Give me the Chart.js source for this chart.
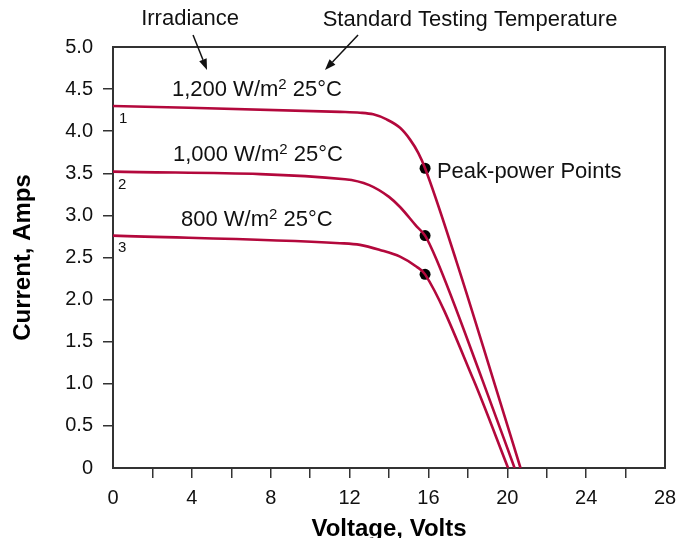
<!DOCTYPE html>
<html>
<head>
<meta charset="utf-8">
<script src="https://cdn.jsdelivr.net/npm/chart.js@4.4.1/dist/chart.umd.min.js"></script>
<style>
  body { margin: 0; background: #fff; }
</style>
</head>
<body>
<canvas id="ivChart" width="677" height="538"></canvas>
<script>
// I-V curves: volts (x) and amps (y)
const volts1200 = [0, 11.51, 12.53, 13.2, 13.88, 14.56, 15.07, 15.49, 15.83, 17.4, 19.29, 20.67];
const amps1200 = [4.3, 4.23, 4.22, 4.2, 4.14, 4.04, 3.9, 3.74, 3.56, 2.47, 1.05, 0];
const volts1000 = [0, 11.77, 13.0, 14.0, 14.56, 15.4, 15.83, 16.42, 18.73, 20.37];
const amps1000 = [3.52, 3.43, 3.36, 3.22, 3.1, 2.87, 2.76, 2.47, 1.05, 0];
const volts800 = [0, 11.51, 12.53, 13.54, 14.56, 15.4, 15.83, 18.28, 20.04];
const amps800 = [2.76, 2.67, 2.65, 2.59, 2.51, 2.39, 2.3, 1.05, 0];
const peakVolts = [15.83, 15.83, 15.83];
const peakAmps = [3.56, 2.76, 2.3];

const curveColor = "#b3083c";
const font = "'Liberation Sans', Arial, sans-serif";

// text and arrows, placed in data units; "^" marks a raised small part
const notes = [
  { text: ["Irradiance"], x: 3.91, y: 5.356, align: "center", size: 22 },
  { text: ["Standard Testing Temperature"], x: 18.11, y: 5.344, align: "center", size: 22 },
  { text: ["1,200 W/m", "^2", " 25\u00b0C"], x: 2.99, y: 4.513, align: "left", size: 22 },
  { text: ["1,000 W/m", "^2", " 25\u00b0C"], x: 3.04, y: 3.741, align: "left", size: 22 },
  { text: ["800 W/m", "^2", " 25\u00b0C"], x: 3.45, y: 2.969, align: "left", size: 22 },
  { text: ["Peak-power Points"], x: 16.43, y: 3.539, align: "left", size: 22 },
  { text: ["1"], x: 0.51, y: 4.157, align: "center", size: 15 },
  { text: ["2"], x: 0.46, y: 3.373, align: "center", size: 15 },
  { text: ["3"], x: 0.46, y: 2.625, align: "center", size: 15 },
];
const arrows = [
  { x1: 4.06, y1: 5.142, x2: 4.77, y2: 4.727 },
  { x1: 12.43, y1: 5.142, x2: 10.75, y2: 4.727 },
];

function points(xs, ys) {
  return xs.map((v, i) => ({ x: v, y: ys[i] }));
}

function curve(xs, ys) {
  return {
    data: points(xs, ys),
    borderColor: curveColor,
    borderWidth: 2.6,
    pointRadius: 0,
    fill: false,
    cubicInterpolationMode: "monotone",
  };
}

const boxPlugin = {
  id: "box",
  beforeDatasetsDraw(chart) {
    const a = chart.chartArea;
    const ctx = chart.ctx;
    ctx.save();
    ctx.strokeStyle = "#333";
    ctx.lineWidth = 2;
    ctx.strokeRect(a.left, a.top, a.right - a.left, a.bottom - a.top);
    ctx.restore();
  },
};

function partFont(p, size) {
  return (p[0] === "^" ? Math.round(size * 0.68) : size) + "px " + font;
}

const notesPlugin = {
  id: "notes",
  afterDatasetsDraw(chart) {
    const ctx = chart.ctx;
    const xs = chart.scales.x;
    const ys = chart.scales.y;
    ctx.save();
    ctx.fillStyle = "#111";
    ctx.textBaseline = "alphabetic";
    ctx.textAlign = "left";
    notes.forEach((n) => {
      let total = 0;
      n.text.forEach((p) => {
        ctx.font = partFont(p, n.size);
        total += ctx.measureText(p.replace("^", "")).width;
      });
      let x = xs.getPixelForValue(n.x);
      if (n.align === "center") x -= total / 2;
      const base = ys.getPixelForValue(n.y) + n.size * 0.36;
      n.text.forEach((p) => {
        ctx.font = partFont(p, n.size);
        const t = p.replace("^", "");
        const y = p[0] === "^" ? base - n.size * 0.3 : base;
        ctx.fillText(t, x, y);
        x += ctx.measureText(t).width;
      });
    });
    ctx.strokeStyle = "#111";
    ctx.lineWidth = 1.5;
    arrows.forEach((ar) => {
      const x1 = xs.getPixelForValue(ar.x1), y1 = ys.getPixelForValue(ar.y1);
      const x2 = xs.getPixelForValue(ar.x2), y2 = ys.getPixelForValue(ar.y2);
      const ang = Math.atan2(y2 - y1, x2 - x1);
      const len = 11, half = 4;
      const bx = x2 - len * Math.cos(ang), by = y2 - len * Math.sin(ang);
      ctx.beginPath();
      ctx.moveTo(x1, y1);
      ctx.lineTo(bx, by);
      ctx.stroke();
      ctx.beginPath();
      ctx.moveTo(x2, y2);
      ctx.lineTo(bx + half * Math.sin(ang), by - half * Math.cos(ang));
      ctx.lineTo(bx - half * Math.sin(ang), by + half * Math.cos(ang));
      ctx.closePath();
      ctx.fill();
    });
    ctx.restore();
  },
};

new Chart("ivChart", {
  type: "line",
  data: {
    datasets: [
      curve(volts1200, amps1200),
      curve(volts1000, amps1000),
      curve(volts800, amps800),
      {
        data: points(peakVolts, peakAmps),
        showLine: false,
        pointRadius: 5.5,
        pointBackgroundColor: "#000",
        pointBorderWidth: 0,
      },
    ],
  },
  options: {
    responsive: false,
    animation: false,
    layout: { padding: { top: 47, right: 12, left: 0, bottom: 0 } },
    plugins: { legend: { display: false }, tooltip: { enabled: false } },
    scales: {
      x: {
        type: "linear",
        min: 0,
        max: 28,
        afterFit(scale) {
          scale.height = 70;
          scale.paddingLeft = 0;
          scale.paddingRight = 0;
        },
        border: { display: false },
        grid: {
          drawOnChartArea: false,
          tickLength: 10,
          lineWidth: 1.5,
          color: (c) => (c.tick && (c.tick.value === 0 || c.tick.value === 28) ? "rgba(0,0,0,0)" : "#333"),
        },
        ticks: {
          stepSize: 2,
          padding: 8,
          color: "#111",
          font: { family: font, size: 20 },
          callback: (v) => (v % 4 === 0 ? String(v) : ""),
        },
        title: {
          display: true,
          text: "Voltage, Volts",
          color: "#000",
          font: { family: font, size: 24, weight: "bold", lineHeight: 0.75 },
          padding: 0,
        },
      },
      y: {
        min: 0,
        max: 5,
        afterFit(scale) {
          scale.width = 113;
          scale.paddingTop = 0;
          scale.paddingBottom = 0;
        },
        border: { display: false },
        grid: {
          drawOnChartArea: false,
          tickLength: 10,
          lineWidth: 1.5,
          color: (c) => (c.tick && (c.tick.value === 0 || c.tick.value === 5) ? "rgba(0,0,0,0)" : "#333"),
        },
        ticks: {
          stepSize: 0.5,
          padding: 10,
          color: "#111",
          font: { family: font, size: 20 },
          callback: (v) => (v === 0 ? "0" : v.toFixed(1)),
        },
        title: {
          display: true,
          text: "Current, Amps",
          color: "#000",
          font: { family: font, size: 24, weight: "bold" },
          padding: { top: 9, bottom: 0 },
        },
      },
    },
  },
  plugins: [boxPlugin, notesPlugin],
});
</script>
</body>
</html>
